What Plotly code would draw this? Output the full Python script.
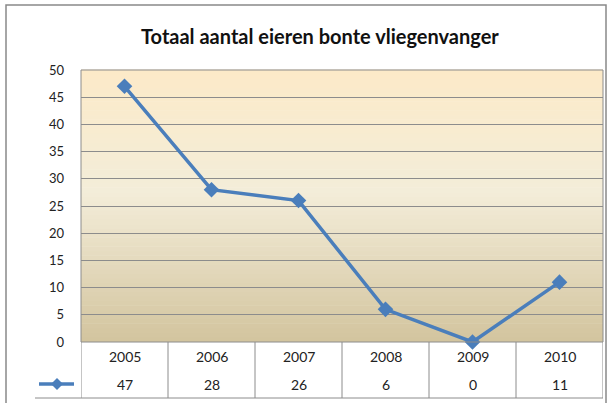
import plotly.graph_objects as go

title = "Totaal aantal eieren bonte vliegenvanger"
years = ["2005", "2006", "2007", "2008", "2009", "2010"]
values = [47, 28, 26, 6, 0, 11]
y_ticks = [0, 5, 10, 15, 20, 25, 30, 35, 40, 45, 50]

W, H = 611, 403
L, R, T, B = 81, 8, 70, 61
pw, ph = W - L - R, H - T - B

def px_x(p):
    return (p - L) / pw

def px_y(p):
    return (H - B - p) / ph

LINE = "#4A7EBB"
GRID = "#8C8C8C"
FONT = "Lato"

fig = go.Figure()
fig.add_trace(go.Scatter(
    x=years, y=values, mode="lines+markers",
    line=dict(color=LINE, width=3.5),
    marker=dict(symbol="diamond", size=12, color=LINE),
    showlegend=False, cliponaxis=False,
))

shapes = []
# gradient background
stops = [(0.0, (211, 196, 158)), (0.55, (243, 237, 217)), (1.0, (252, 234, 200))]
def col(t):
    for (a, ca), (b, cb) in zip(stops, stops[1:]):
        if a <= t <= b:
            f = (t - a) / (b - a)
            return "rgb(%d,%d,%d)" % tuple(round(ca[i] + (cb[i] - ca[i]) * f) for i in range(3))
    return "rgb(%d,%d,%d)" % stops[-1][1]
N = 60
for i in range(N):
    shapes.append(dict(type="rect", xref="x domain", yref="y domain",
                       x0=0, x1=1, y0=i / N, y1=(i + 1) / N + 0.002,
                       fillcolor=col((i + 0.5) / N), line=dict(width=0), layer="below"))

# table lines
ybot = px_y(398)
for k in range(len(years) + 1):
    shapes.append(dict(type="line", xref="x", yref="paper",
                       x0=k - 0.5, x1=k - 0.5, y0=0, y1=ybot,
                       line=dict(color=GRID, width=1)))
shapes.append(dict(type="line", xref="paper", yref="paper",
                   x0=px_x(35), x1=1, y0=ybot, y1=ybot,
                   line=dict(color=GRID, width=1)))
# plot frame
shapes.append(dict(type="rect", xref="paper", yref="paper", x0=0, x1=1, y0=0, y1=1,
                   line=dict(color=GRID, width=1)))
# legend key
ly = px_y(384)
shapes.append(dict(type="line", xref="paper", yref="paper",
                   x0=px_x(39), x1=px_x(74), y0=ly, y1=ly,
                   line=dict(color=LINE, width=3.5)))
cx, cy, dx, dy = px_x(57), ly, 6 / pw, 6 / ph
shapes.append(dict(type="path", xref="paper", yref="paper",
                   path=f"M {cx-dx},{cy} L {cx},{cy+dy} L {cx+dx},{cy} L {cx},{cy-dy} Z",
                   fillcolor=LINE, line=dict(color=LINE, width=0)))
# outer border
shapes.append(dict(type="rect", xref="paper", yref="paper",
                   x0=px_x(6), x1=px_x(606), y0=-0.5, y1=px_y(5),
                   line=dict(color="#898989", width=1.5)))

annotations = []
for k, (yr, v) in enumerate(zip(years, values)):
    annotations.append(dict(x=k, y=px_y(356), xref="x", yref="paper", text=yr,
                            xanchor="center", yanchor="middle",
                            showarrow=False, font=dict(family=FONT, size=14, color="#222")))
    annotations.append(dict(x=k, y=px_y(384), xref="x", yref="paper", text=str(v),
                            xanchor="center", yanchor="middle",
                            showarrow=False, font=dict(family=FONT, size=14, color="#222")))
annotations.append(dict(x=px_x(320), y=px_y(36), xref="paper", yref="paper", text=title,
                        xanchor="center", yanchor="middle",
                        showarrow=False, font=dict(family=FONT, size=20, color="#111", weight="bold")))

fig.update_layout(
    width=W, height=H,
    margin=dict(l=L, r=R, t=T, b=B, pad=0),
    paper_bgcolor="white", plot_bgcolor="white",
    shapes=shapes, annotations=annotations,
    xaxis=dict(type="category", range=[-0.5, len(years) - 0.5], showticklabels=False,
               showgrid=False, zeroline=False, fixedrange=True),
    yaxis=dict(range=[0, 50], tickvals=y_ticks, showgrid=True, gridcolor=GRID, gridwidth=1,
               zeroline=False, ticks="", ticklabelstandoff=16,
               tickfont=dict(family=FONT, size=13, color="#222"), fixedrange=True),
    showlegend=False,
)
fig.write_html("out.html", config={"displayModeBar": False},
               post_script="document.body.style.margin='0';")
